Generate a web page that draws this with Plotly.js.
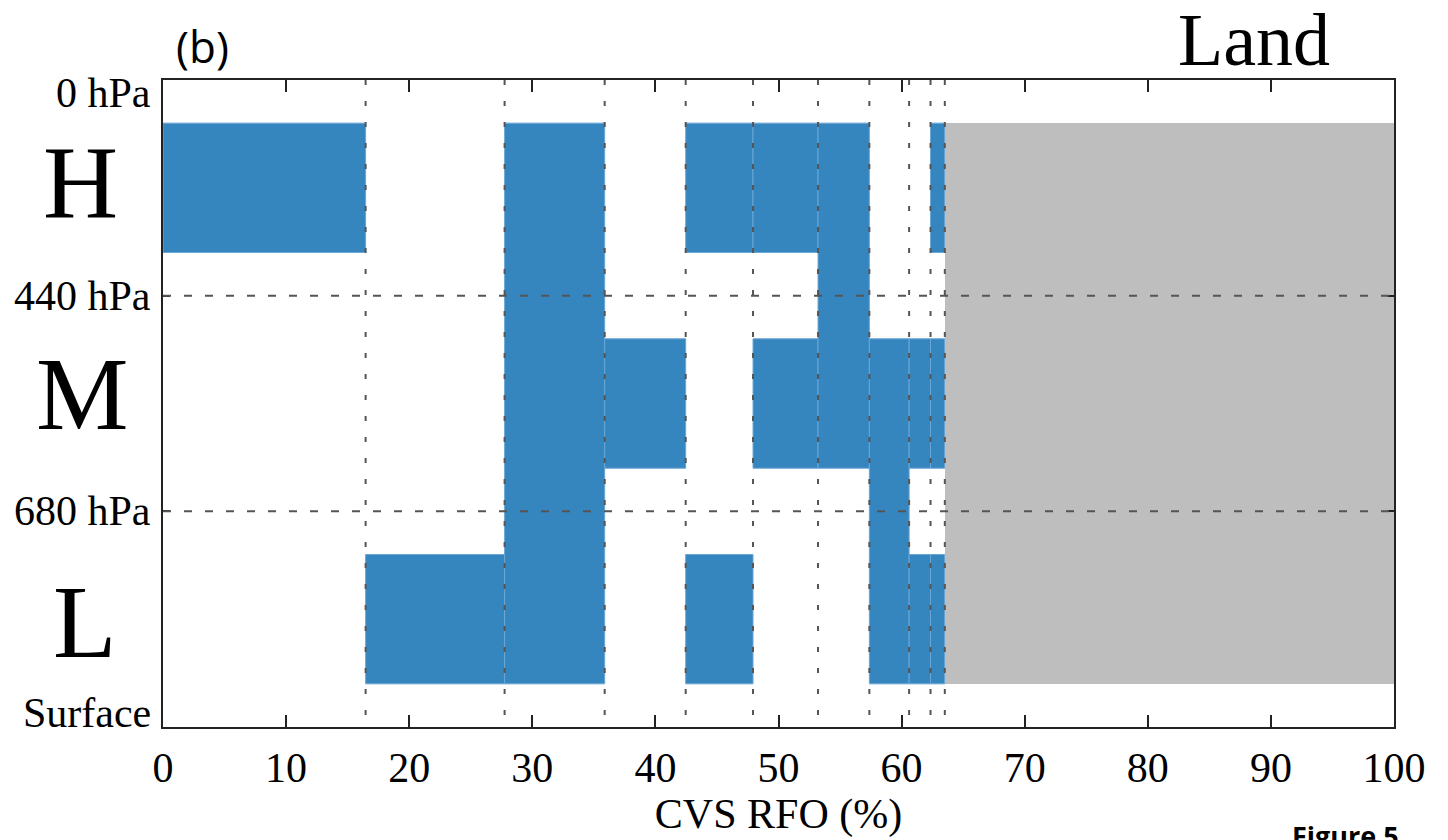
<!DOCTYPE html>
<html>
<head>
<meta charset="utf-8">
<script src="https://cdn.plot.ly/plotly-3.0.1.min.js"></script>
<style>html,body{margin:0;padding:0;background:#fff;}#chart{width:1448px;height:840px;}</style>
</head>
<body>
<div id="chart"></div>
<script>
// ---- data ----
const categories = ['H', 'L', 'HML', 'M', 'H+L', 'H+M', 'HM', 'ML', 'M+L', 'H+M+L'];
const rfo = [16.46, 11.29, 8.13, 6.58, 5.47, 5.28, 4.17, 3.23, 1.74, 1.16];
// each category is made of blocks; a block spans from a top layer to a bottom layer (0=H, 1=M, 2=L)
const blockTop    = [[0], [2], [0], [1], [0, 2], [0, 1], [0], [1], [1, 2], [0, 1, 2]];
const blockBottom = [[0], [2], [2], [1], [0, 2], [0, 1], [1], [2], [1, 2], [0, 1, 2]];
const layerLabels = ['H', 'M', 'L'];
const levelLabels = ['0 hPa', '440 hPa', '680 hPa', 'Surface'];
const xTicks = [0, 10, 20, 30, 40, 50, 60, 70, 80, 90, 100];

// ---- build bars ----
const serif = 'Liberation Serif, Times New Roman, serif';
const pad = 0.2;
let cum = 0;
const bx = [], bw = [], bbase = [], bh = [], btxt = [];
const bounds = [];
rfo.forEach((w, i) => {
  blockTop[i].forEach((t, k) => {
    const b = blockBottom[i][k];
    bx.push(cum + w / 2); bw.push(w);
    bbase.push(t + pad); bh.push(b - t + 1 - 2 * pad);
    btxt.push(categories[i]);
  });
  cum += w;
  bounds.push(cum);
});
const restStart = cum;
const rest = 100 - cum;

const traces = [
  {type: 'bar', x: bx, width: bw, base: bbase, y: bh, text: btxt, textposition: 'none',
   marker: {color: '#3585be', line: {color: '#6aa6d6', width: 1}}, hoverinfo: 'x+text', showlegend: false},
  {type: 'bar', x: [restStart + rest / 2], width: [rest], base: [pad], y: [3 - 2 * pad],
   marker: {color: '#bebebe', line: {width: 0}}, showlegend: false, hoverinfo: 'skip'}
];

const shapes = [];
bounds.forEach(v => shapes.push({type: 'line', xref: 'x', yref: 'y', x0: v, x1: v, y0: 0, y1: 3,
  line: {color: '#555', width: 2, dash: '5px,16px'}, layer: 'above'}));
[1, 2].forEach(v => shapes.push({type: 'line', xref: 'paper', yref: 'y', x0: 0, x1: 1, y0: v, y1: v,
  line: {color: '#555', width: 2, dash: '8px,13px'}, layer: 'above'}));

const annotations = [];
const levelShift = [-13, 0, 0, 14];
levelLabels.forEach((t, i) => annotations.push({text: t, xref: 'paper', yref: 'y', x: 0, y: i,
  xanchor: 'right', yanchor: 'middle', xshift: -10, yshift: levelShift[i], showarrow: false,
  font: {family: serif, size: 42, color: '#000'}}));
const letterX = [-83, -81, -78];
const letterY = [5, 10, -2];
layerLabels.forEach((t, i) => annotations.push({text: t, xref: 'paper', yref: 'y', x: 0, y: i + 0.5,
  xanchor: 'center', yanchor: 'middle', xshift: letterX[i], yshift: letterY[i], showarrow: false,
  font: {family: serif, size: 104, color: '#000'}}));
annotations.push({text: 'Land', xref: 'paper', yref: 'paper', x: 0.886, y: 1.062, xanchor: 'center', yanchor: 'middle',
  showarrow: false, font: {family: serif, size: 74, color: '#000'}});
annotations.push({text: '(b)', xref: 'paper', yref: 'paper', x: 0.0318, y: 1.0525, xanchor: 'center', yanchor: 'middle',
  showarrow: false, font: {family: 'Open Sans, Noto Sans, sans-serif', size: 44, color: '#000'}});
annotations.push({text: '<b>Figure 5</b>', xref: 'paper', yref: 'paper', x: 0.9155, y: -0.136, xanchor: 'left', yanchor: 'top',
  showarrow: false, font: {family: 'Open Sans, Noto Sans, sans-serif', size: 27, color: '#000'}});

const layout = {
  width: 1448, height: 840,
  margin: {l: 163, r: 54, t: 80, b: 113},
  paper_bgcolor: '#fff', plot_bgcolor: '#fff',
  barmode: 'overlay', bargap: 0,
  xaxis: {range: [0, 100], tickvals: xTicks, ticktext: xTicks.map(String), ticks: 'inside', ticklen: 12, tickwidth: 2,
    tickcolor: '#222', showline: true, linecolor: '#222', linewidth: 2, mirror: 'ticks', showgrid: false, zeroline: false,
    tickfont: {family: serif, size: 42, color: '#000'}, ticklabelstandoff: 3,
    title: {text: 'CVS RFO (%)', font: {family: serif, size: 42, color: '#000'}, standoff: 8}},
  yaxis: {range: [3, 0], tickvals: [0, 1, 2, 3], showticklabels: false, ticks: 'inside', ticklen: 7, tickwidth: 2,
    tickcolor: '#222', showline: true, linecolor: '#222', linewidth: 2, mirror: 'ticks', showgrid: false, zeroline: false},
  shapes: shapes,
  annotations: annotations
};

Plotly.newPlot('chart', traces, layout, {displayModeBar: false, staticPlot: true});
</script>
</body>
</html>
